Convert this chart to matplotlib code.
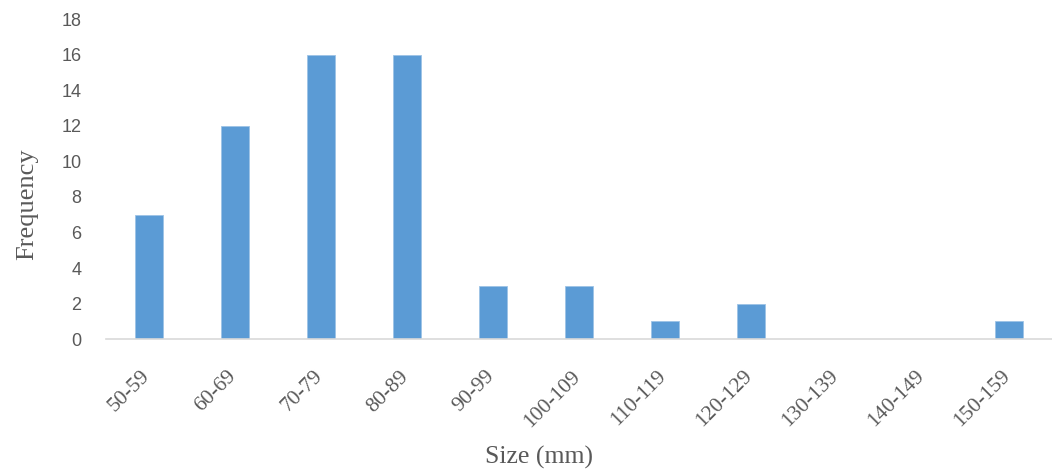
import matplotlib.pyplot as plt
import matplotlib.transforms as mtransforms
import numpy as np

# --- Datos ---
categories = ['50-59', '60-69', '70-79', '80-89', '90-99', '100-109',
              '110-119', '120-129', '130-139', '140-149', '150-159']
frequency = [7, 12, 16, 16, 3, 3, 1, 2, 0, 0, 1]
y_ticks = [0, 2, 4, 6, 8, 10, 12, 14, 16, 18]

# --- Figura ---
fig = plt.figure(figsize=(10.52, 4.75), dpi=100)
ax = fig.add_axes([0.101, 0.286, 0.899, 0.674])

x = np.arange(len(categories))
ax.bar(x, frequency, width=0.32, color='#5B9BD5', edgecolor='#9DC3E6', linewidth=0.6)

ax.set_xlim(-0.5, len(categories) - 0.5)
ax.set_ylim(0, 18)
ax.set_yticks(y_ticks)
ax.set_yticklabels([str(v) for v in y_ticks], fontsize=13, color='#595959',
                   family='Liberation Sans')
ax.tick_params(axis='y', length=0, pad=18)

ax.set_xticks(x)
ax.set_xticklabels(categories, rotation=45, ha='right', va='top', fontsize=15.5,
                   color='#595959', family='Liberation Serif')
ax.tick_params(axis='x', length=0, pad=20)
# desplazar un poco las etiquetas a la derecha, como en el original
offset = mtransforms.ScaledTranslation(5 / 100, 0, fig.dpi_scale_trans)
for lbl in ax.get_xticklabels():
    lbl.set_transform(lbl.get_transform() + offset)

for side in ['top', 'right', 'left']:
    ax.spines[side].set_visible(False)
ax.spines['bottom'].set_color('#D9D9D9')
ax.spines['bottom'].set_linewidth(1.2)

ax.set_ylabel('Frequency', fontsize=19, color='#595959', family='Liberation Serif')
ax.yaxis.set_label_coords(-0.072, 0.42)
ax.set_xlabel('Size (mm)', fontsize=18.5, color='#595959', family='Liberation Serif')
ax.xaxis.set_label_coords(0.458, -0.335)

plt.savefig('out.png', dpi=100)
